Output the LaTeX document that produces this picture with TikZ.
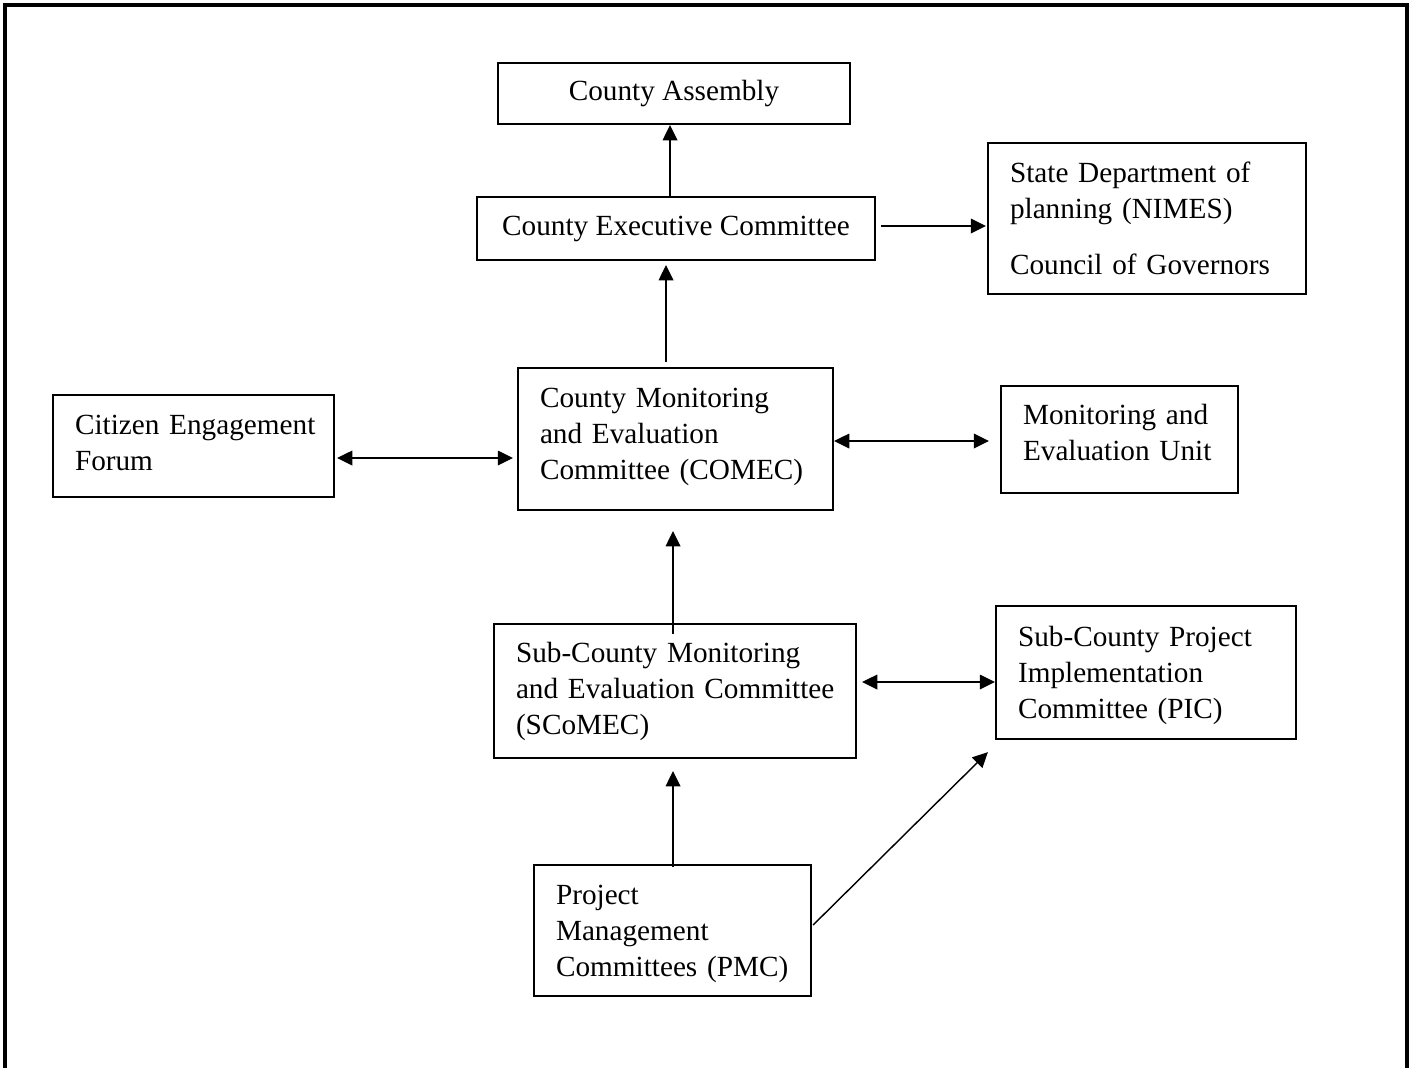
\documentclass[tikz,border=0pt]{standalone}
\usepackage{fontspec}
\setmainfont{Liberation Serif}
\usetikzlibrary{arrows.meta}
\newdimen\pxu
\pxu=0.383pt
\begin{document}
\begin{tikzpicture}[x=0.383pt,y=-0.383pt,
  box/.style={draw,line width=0.85pt,inner sep=0pt,font=\fontsize{11.2}{13.8}\selectfont},
  cbox/.style={box,align=center},
  lbox/.style={box,align=left,inner xsep=22\pxu},
  arr/.style={line width=0.55pt,-{Triangle[length=5.8pt,width=5.6pt]}},
  darr/.style={line width=0.55pt,{Triangle[length=5.8pt,width=5.6pt]}-{Triangle[length=5.8pt,width=5.6pt]}}]
\useasboundingbox (0,0) rectangle (1413,1067);
\draw[line width=1.2pt] (5,1080) -- (5,5) -- (1407,5) -- (1407,1080);

\node[cbox,minimum width=352\pxu,minimum height=61\pxu] (CA) at (674,93.5) {County Assembly};
\node[cbox,minimum width=398\pxu,minimum height=63\pxu] (CEC) at (676,228.5) {County Executive Committee};
\node[lbox,minimum width=318\pxu,minimum height=151\pxu,text width=274\pxu] (SD) at (1147,218.5)
  {\mbox{State Department of}\\ \mbox{planning (NIMES)}\\[7.5pt] \mbox{Council of Governors}};
\node[lbox,minimum width=315\pxu,minimum height=142\pxu,text width=271\pxu] (COMEC) at (675.5,439)
  {\mbox{County Monitoring}\\ \mbox{and Evaluation}\\ \mbox{Committee (COMEC)}\par\kern1.5pt};
\node[lbox,minimum width=281\pxu,minimum height=102\pxu,text width=237\pxu] (CEF) at (193.5,446)
  {\mbox{Citizen Engagement}\\ Forum\par\kern2.3pt};
\node[lbox,minimum width=237\pxu,minimum height=107\pxu,text width=193\pxu] (MEU) at (1119.5,439.5)
  {\mbox{Monitoring and}\\ \mbox{Evaluation Unit}\par\kern5pt};
\node[lbox,minimum width=362\pxu,minimum height=134\pxu,text width=318\pxu] (SCOMEC) at (675,691)
  {\mbox{Sub-County Monitoring}\\ \mbox{and Evaluation Committee}\\ (SCoMEC)};
\node[lbox,minimum width=300\pxu,minimum height=133\pxu,text width=256\pxu] (PIC) at (1146,672.5)
  {\mbox{Sub-County Project}\\ \mbox{Implementation}\\ \mbox{Committee (PIC)}\par\kern-2.3pt};
\node[lbox,minimum width=277\pxu,minimum height=131\pxu,text width=233\pxu] (PMC) at (672.5,930.5)
  {Project\\ Management\\ \mbox{Committees (PMC)}\par\kern-2.3pt};

\draw[arr] ([shift={(-6,0)}]CEC.north) -- ([shift={(-4,0)}]CA.south);
\draw[arr] ([shift={(-9.5,-5)}]COMEC.north) -- ([shift={(-10,4)}]CEC.south);
\draw[arr] ([shift={(5,-2.5)}]CEC.east) -- ([shift={(-1,7.5)}]SD.west);
\draw[darr] ([shift={(2,12)}]CEF.east) -- ([shift={(-4,19)}]COMEC.west);
\draw[darr] ([shift={(0,2)}]COMEC.east) -- ([shift={(-11,1.5)}]MEU.west);
\draw[arr] ([shift={(-2,11)}]SCOMEC.north) -- ([shift={(-2.5,20)}]COMEC.south);
\draw[darr] ([shift={(5,-9)}]SCOMEC.east) -- ([shift={(0,9.5)}]PIC.west);
\draw[arr] ([shift={(0.5,3)}]PMC.north) -- ([shift={(-2,12)}]SCOMEC.south);
\draw[arr] ([shift={(1,-5.5)}]PMC.east) -- ([shift={(-7,12)}]PIC.south west);
\end{tikzpicture}
\end{document}
